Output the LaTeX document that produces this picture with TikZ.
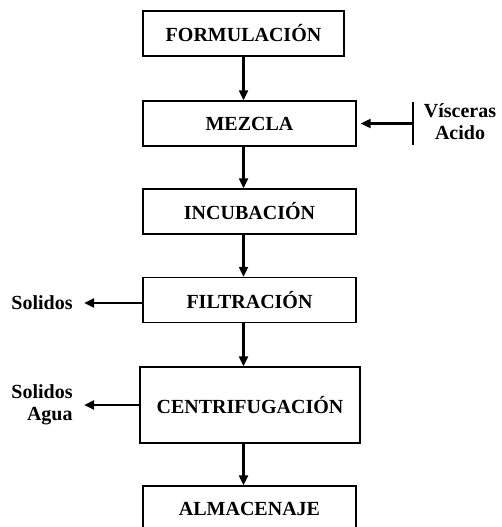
\documentclass[tikz,border=0pt]{standalone}
\usepackage{fontspec}
\setmainfont{Liberation Serif}
\usetikzlibrary{arrows.meta}

\begin{document}
\begin{tikzpicture}[x=1pt,y=-1pt,
    paso/.style={draw,line width=1.4pt,inner sep=0pt,minimum width=213pt,minimum height=45pt},
    flecha/.style={line width=2.2pt,-{Triangle[length=10pt,width=9pt]}},
    every node/.style={font=\fontsize{20}{22}\selectfont\bfseries}]

      \useasboundingbox (0,0) rectangle (501,527);
      \clip (0,0) rectangle (501,527);

      \begin{scope}[every node/.append style={paso}]
        \node (formulacion)    at (243.5,33.5) [minimum width=201pt] {FORMULACIÓN};
        \node (mezcla)         at (249.5,123.5) {MEZCLA};
        \node (incubacion)     at (249.5,211.5) {INCUBACIÓN};
        \node (filtracion)     at (249.5,300)   {FILTRACIÓN};
        \node (centrifugacion) at (250,405) [minimum width=220pt,minimum height=76pt] {CENTRIFUGACIÓN};
        \node (almacenaje)     at (249.5,508.5) {ALMACENAJE};
      \end{scope}

      \node (visceras) at (460,122) [align=center] {Vísceras\\Acido};
      \node (solidos1) at (42,303) {Solidos};
      \node (solidos2) at (42,405) [align=right] {Solidos\\Agua};

      \coordinate (barra1) at (413,102);
      \coordinate (barra2) at (413,145);
      \draw[line width=2.2pt] (barra1) -- (barra2);

      \draw[flecha] (formulacion.south) -- (formulacion.south |- mezcla.north);
      \draw[flecha] (mezcla.south -| formulacion.south) -- (formulacion.south |- incubacion.north);
      \draw[flecha] (incubacion.south -| formulacion.south) -- (formulacion.south |- filtracion.north);
      \draw[flecha] (filtracion.south -| formulacion.south) -- (formulacion.south |- centrifugacion.north);
      \draw[flecha] (centrifugacion.south -| formulacion.south) -- (formulacion.south |- almacenaje.north);

      \draw[flecha] (barra1 |- mezcla.east) -- ([xshift=4pt]mezcla.east);
      \draw[flecha] (filtracion.west |- solidos1) -- ([xshift=8pt]solidos1.east);
      \draw[flecha] (centrifugacion.west) -- ([xshift=8pt]solidos2.east |- centrifugacion.west);

    \end{tikzpicture}
\end{document}
